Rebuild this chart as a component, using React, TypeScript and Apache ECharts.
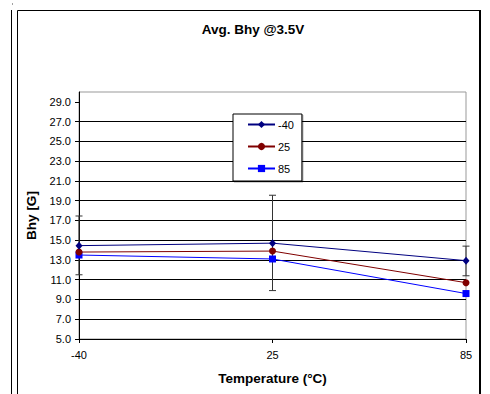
import React, { useEffect, useRef } from "react";
import * as echarts from "echarts";

const temperatures = ["-40", "25", "85"];
const seriesNames = ["-40", "25", "85"];
const bhyMinus40 = [14.45, 14.7, 12.93];
const bhy25 = [13.8, 13.9, 10.7];
const bhy85 = [13.5, 13.1, 9.6];
const errLow = [11.5, 9.9, 11.4];
const errHigh = [17.45, 19.55, 14.4];
const yTicks = [5, 7, 9, 11, 13, 15, 17, 19, 21, 23, 25, 27, 29];

const FONT = 'Arial, "Liberation Sans", sans-serif';

export default function App() {
  const ref = useRef<HTMLDivElement>(null);

  useEffect(() => {
    if (!ref.current) return;
    const chart = echarts.init(ref.current, null, { renderer: "svg" });

    const errorData = temperatures.map((_, i) => [i, errLow[i], errHigh[i]]);

    chart.setOption({
      animation: false,
      backgroundColor: "#ffffff",
      title: {
        text: "Avg. Bhy @3.5V",
        left: 248,
        top: 17,
        textAlign: "center",
        textStyle: { fontFamily: FONT, fontSize: 13.5, fontWeight: "bold", color: "#000" },
      },
      graphic: [
        { type: "line", shape: { x1: 11.5, y1: 10, x2: 11.5, y2: 394 }, style: { stroke: "#000", lineWidth: 1 } },
        { type: "rect", shape: { x: 12, y: 3.5, width: 1, height: 1 }, style: { fill: "#444" } },
        { type: "line", shape: { x1: 17.5, y1: 10.5, x2: 480, y2: 10.5 }, style: { stroke: "#000", lineWidth: 1 } },
        { type: "line", shape: { x1: 17.5, y1: 10.5, x2: 17.5, y2: 394 }, style: { stroke: "#000", lineWidth: 1 } },
        { type: "line", shape: { x1: 480, y1: 10, x2: 480, y2: 394 }, style: { stroke: "#000", lineWidth: 2 } },
      ],
      legend: {
        data: seriesNames,
        orient: "vertical",
        left: 233,
        top: 114,
        itemWidth: 27,
        itemHeight: 9,
        itemGap: 11,
        padding: [5, 8, 7, 14],
        borderColor: "#000",
        borderWidth: 1,
        backgroundColor: "#fff",
        shadowColor: "rgba(0,0,0,0.35)",
        shadowOffsetX: 1,
        shadowOffsetY: 1,
        shadowBlur: 0,
        textStyle: { fontFamily: FONT, fontSize: 11, color: "#000", padding: [0, 0, 0, -2] },
      },
      grid: {
        left: 79,
        right: 24,
        top: 92,
        bottom: 55,
        show: true,
        borderColor: "#999",
        borderWidth: 1,
        backgroundColor: "transparent",
      },
      xAxis: {
        type: "category",
        data: temperatures,
        boundaryGap: false,
        name: "Temperature (°C)",
        nameLocation: "middle",
        nameGap: 32,
        nameTextStyle: { fontFamily: FONT, fontSize: 13.5, fontWeight: "bold", color: "#000" },
        axisLine: { lineStyle: { color: "#000", width: 1 } },
        axisTick: { show: true, inside: false, length: 4, alignWithLabel: true, lineStyle: { color: "#000" } },
        axisLabel: { fontFamily: FONT, fontSize: 11, color: "#000", margin: 10 },
        splitLine: { show: false },
      },
      yAxis: {
        type: "value",
        min: 5,
        max: 30,
        interval: 2,
        name: "Bhy [G]",
        nameLocation: "middle",
        nameRotate: 90,
        nameGap: 34,
        nameTextStyle: { fontFamily: FONT, fontSize: 13.5, fontWeight: "bold", color: "#000" },
        axisLine: { show: true, lineStyle: { color: "#000", width: 1 } },
        axisTick: { show: true, inside: false, length: 4, customValues: yTicks, lineStyle: { color: "#000" } },
        axisLabel: {
          fontFamily: FONT,
          fontSize: 11,
          color: "#000",
          margin: 8,
          customValues: yTicks,
          formatter: (v: number) => v.toFixed(1),
        },
        splitLine: { show: true, showMaxLine: false, showMinLine: false, lineStyle: { color: "#000", width: 1 } },
      },
      series: [
        {
          name: "error",
          type: "custom",
          data: errorData,
          encode: { x: 0, y: [1, 2] },
          z: 1,
          renderItem: (_params: any, api: any) => {
            const i = api.value(0);
            const lo = api.coord([i, api.value(1)]);
            const hi = api.coord([i, api.value(2)]);
            const half = 3.5;
            const style = { stroke: "#333", lineWidth: 1 };
            return {
              type: "group",
              children: [
                { type: "line", shape: { x1: lo[0], y1: lo[1], x2: hi[0], y2: hi[1] }, style },
                { type: "line", shape: { x1: hi[0] - half, y1: hi[1], x2: hi[0] + half, y2: hi[1] }, style },
                { type: "line", shape: { x1: lo[0] - half, y1: lo[1], x2: lo[0] + half, y2: lo[1] }, style },
              ],
            };
          },
        },
        {
          name: "-40",
          type: "line",
          data: bhyMinus40,
          symbol: "diamond",
          symbolSize: [7, 8],
          z: 5,
          lineStyle: { color: "#000080", width: 1 },
          itemStyle: { color: "#000080" },
        },
        {
          name: "25",
          type: "line",
          data: bhy25,
          symbol: "circle",
          symbolSize: 7,
          z: 4,
          lineStyle: { color: "#800000", width: 1 },
          itemStyle: { color: "#800000" },
        },
        {
          name: "85",
          type: "line",
          data: bhy85,
          symbol: "rect",
          symbolSize: 7,
          z: 3,
          lineStyle: { color: "#0000ff", width: 1 },
          itemStyle: { color: "#0000ff" },
        },
      ],
    });

    return () => chart.dispose();
  }, []);

  return (
    <div
      ref={ref}
      style={{ position: "absolute", left: 0, top: 0, width: 490, height: 394 }}
    />
  );
}
